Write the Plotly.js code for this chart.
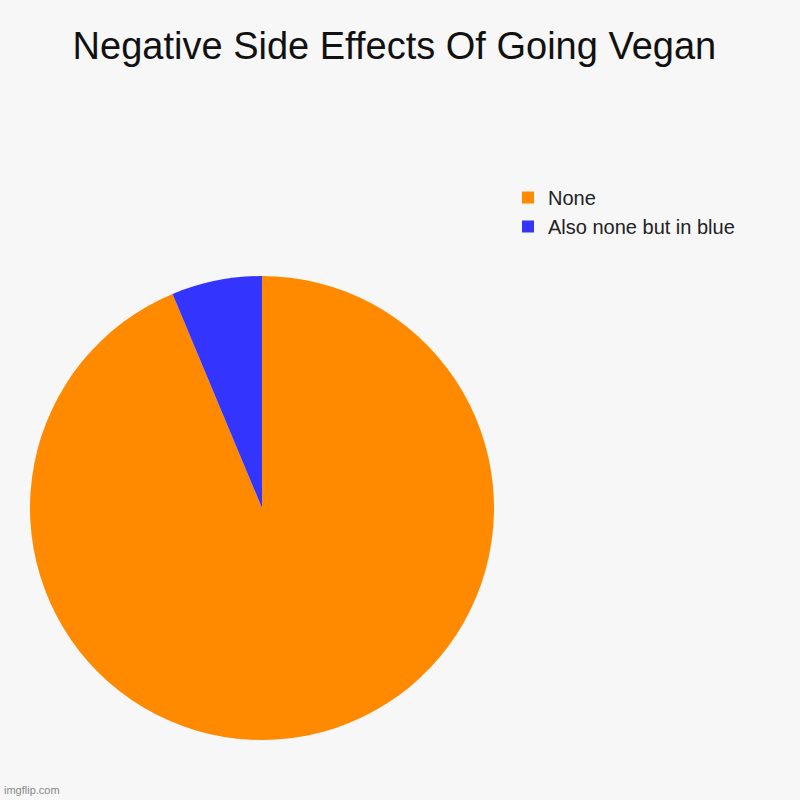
<!DOCTYPE html>
<html>
<head>
<meta charset="utf-8">
<script src="https://cdn.plot.ly/plotly-3.0.1.min.js"></script>
<style>html,body{margin:0;padding:0;background:#f7f7f7;}#chart{width:800px;height:800px;}</style>
</head>
<body>
<div id="chart"></div>
<script>
var labels = ["None", "Also none but in blue"];
var values = [93.7, 6.3];
var colors = ["#ff8a00", "#3434ff"];

var trace = {
  type: "pie",
  labels: labels,
  values: values,
  sort: false,
  direction: "clockwise",
  rotation: 0,
  textinfo: "none",
  hoverinfo: "label+percent",
  marker: {colors: colors, line: {width: 0}},
  domain: {x: [30/800, 494/800], y: [1 - 740/800, 1 - 276/800]}
};

var layout = {
  width: 800, height: 800,
  margin: {l: 0, r: 0, t: 0, b: 0},
  paper_bgcolor: "#f7f7f7",
  plot_bgcolor: "#f7f7f7",
  font: {family: "Liberation Sans, Arial, sans-serif", color: "#222"},
  title: {
    text: "Negative Side Effects Of Going Vegan",
    font: {size: 38, color: "#111", family: "Liberation Sans, Arial, sans-serif"},
    x: 0.493, xanchor: "center", y: 1 - 46/800, yanchor: "middle"
  },
  showlegend: true,
  legend: {
    x: 508/800, y: 1 - 178/800, xanchor: "left", yanchor: "top",
    font: {size: 20, color: "#222"},
    bgcolor: "rgba(0,0,0,0)",
    traceorder: "normal"
  },
  annotations: [{
    text: "imgflip.com", showarrow: false, xref: "paper", yref: "paper",
    x: 0.002, y: 0.002, xanchor: "left", yanchor: "bottom",
    font: {size: 11, color: "#888"}
  }]
};

Plotly.newPlot("chart", [trace], layout, {displayModeBar: false, staticPlot: true});
</script>
</body>
</html>
